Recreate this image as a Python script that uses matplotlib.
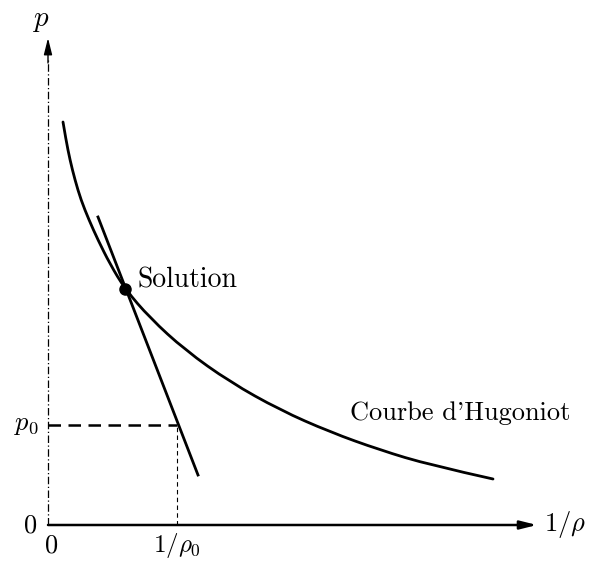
import matplotlib
matplotlib.use("Agg")
import matplotlib.pyplot as plt
from matplotlib.path import Path
from matplotlib.patches import PathPatch

plt.rcParams['mathtext.fontset'] = 'cm'
plt.rcParams['font.family'] = ['cmr10', 'DejaVu Serif']
plt.rcParams['axes.formatter.use_mathtext'] = True

# Hugoniot curve (1/rho, p)
curve_v = [0.15, 0.18, 0.22, 0.27, 0.33, 0.41, 0.50, 0.62, 0.77, 1.02, 1.37,
           1.82, 2.32, 2.82, 3.32, 3.82, 4.45]
curve_p = [4.03, 3.85, 3.65, 3.45, 3.25, 3.05, 2.85, 2.61, 2.36, 2.07, 1.75,
           1.43, 1.15, 0.93, 0.75, 0.60, 0.46]

# tangent (Rayleigh) line end points
line_v = [0.50, 1.50]
line_p = [3.08, 0.50]

# solution point
sol_v = 0.77
sol_p = 2.36

# initial state
v0 = 1.29
p0 = 1.00

# axis extents
x_end = 4.89
y_end = 4.87

fig = plt.figure(figsize=(5.96, 5.61), dpi=100)
ax = fig.add_axes([0, 0, 1, 1])
ax.set_xlim(-0.48, 5.48)
ax.set_ylim(-0.36, 5.25)
ax.axis('off')

# axes
ax.annotate('', xy=(x_end, 0), xytext=(0, 0),
            arrowprops=dict(arrowstyle='-|>,head_length=1.0,head_width=0.25', lw=1.8,
                            color='black', shrinkA=0, shrinkB=0))
ax.plot([0, 0], [0, y_end - 0.2], color='black', lw=0.9, ls=(0, (6, 2, 1, 2)))
ax.annotate('', xy=(0, y_end), xytext=(0, y_end - 0.25),
            arrowprops=dict(arrowstyle='-|>,head_length=1.0,head_width=0.25', lw=1.0,
                            color='black', shrinkA=0, shrinkB=0))

# dashed guides
ax.plot([0, v0], [p0, p0], color='black', lw=1.8, ls=(0, (5, 3)))
ax.plot([v0, v0], [0, p0], color='black', lw=0.8, ls=(0, (4, 3)))

# smooth Hugoniot curve through the read points (quadratic Bezier smoothing)
pts = list(zip(curve_v, curve_p))
verts = [pts[0]]
codes = [Path.MOVETO]
for i in range(1, len(pts) - 1):
    mid = ((pts[i][0] + pts[i + 1][0]) / 2, (pts[i][1] + pts[i + 1][1]) / 2)
    if i == len(pts) - 2:
        mid = pts[-1]
    verts += [pts[i], mid]
    codes += [Path.CURVE3, Path.CURVE3]
ax.add_patch(PathPatch(Path(verts, codes), fill=False, lw=2.0, color='black',
                       capstyle='round'))

ax.plot(line_v, line_p, color='black', lw=2.0)
ax.plot([sol_v], [sol_p], 'o', color='black', ms=8)

fs = 19
ax.text(0.90, 2.45, 'Solution', fontsize=20, va='center', ha='left')
ax.text(3.02, 1.05, "Courbe d'Hugoniot", fontsize=fs, va='baseline', ha='left')
ax.text(-0.07, 5.04, r'$p$', fontsize=21, ha='center', va='center')
ax.text(-0.17, -0.01, '0', fontsize=fs, ha='center', va='center')
ax.text(0.04, -0.21, '0', fontsize=fs, ha='center', va='center')
ax.text(v0, -0.20, r'$1/\rho_0$', fontsize=18, ha='center', va='center')
ax.text(-0.22, p0, r'$p_0$', fontsize=fs, ha='center', va='center')
ax.text(5.17, 0.0, r'$1/\rho$', fontsize=fs, ha='center', va='center')

fig.savefig('out.png', dpi=100)
